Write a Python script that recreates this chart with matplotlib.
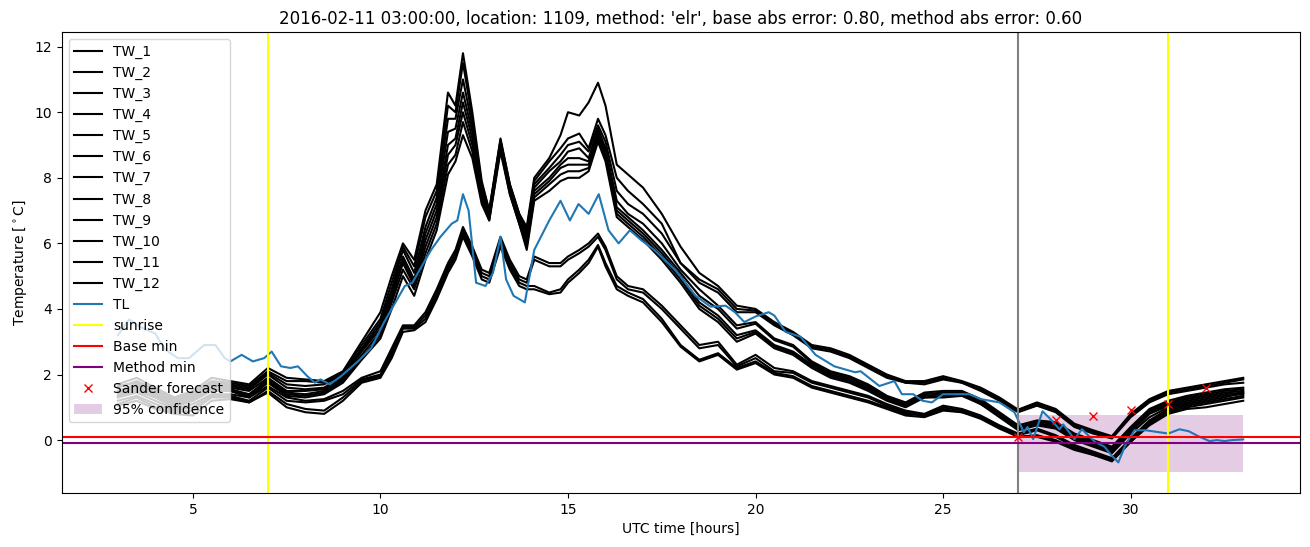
import matplotlib
matplotlib.use("Agg")
import matplotlib.pyplot as plt

# ---- data -------------------------------------------------------------
hours = [3.0, 3.5, 4.0, 4.5, 5.0, 5.5, 6.0, 6.5, 7.0, 7.5,
         8.0, 8.5, 9.0, 9.5, 10.0, 10.3, 10.6, 10.9, 11.2, 11.5,
         11.8, 12.0, 12.2, 12.45, 12.7, 12.9, 13.2, 13.45, 13.7, 13.9,
         14.1, 14.5, 14.8, 15.0, 15.3, 15.55, 15.8, 16.0, 16.3, 16.6,
         17.0, 17.5, 18.0, 18.5, 19.0, 19.5, 20.0, 20.5, 21.0, 21.5,
         22.0, 22.5, 23.0, 23.5, 24.0, 24.5, 25.0, 25.5, 26.0, 26.5,
         27.0, 27.5, 28.0, 28.5, 29.0, 29.5, 30.0, 30.5, 31.0, 31.5,
         32.0, 32.5, 33.0]

tw_1 = [1.7, 1.9, 1.6, 1.3, 1.5, 1.9, 1.8, 1.7, 2.2, 1.9,
        1.85, 1.8, 2.1, 3.0, 3.9, 5.0, 6.0, 5.5, 7.0, 7.8,
        10.6, 10.2, 11.8, 10.0, 7.9, 7.0, 9.2, 7.8, 6.9, 6.5,
        8.0, 8.6, 9.3, 10.0, 9.9, 10.3, 10.9, 10.2, 8.4, 8.1,
        7.7, 6.9, 5.9, 5.1, 4.7, 4.1, 4.0, 3.6, 3.3, 2.9,
        2.8, 2.6, 2.3, 2.0, 1.8, 1.8, 1.95, 1.8, 1.6, 1.3,
        0.93, 1.15, 0.95, 0.5, 0.3, 0.12, 0.8, 1.25, 1.5, 1.6,
        1.7, 1.8, 1.9]
tw_2 = [1.6, 1.8, 1.55, 1.3, 1.45, 1.8, 1.75, 1.65, 2.1, 1.8,
        1.8, 1.75, 2.05, 2.9, 3.7, 4.8, 5.9, 5.3, 6.8, 7.6,
        10.2, 10.0, 11.5, 9.8, 7.8, 7.0, 9.15, 7.8, 6.9, 6.4,
        7.9, 8.5, 8.9, 9.2, 9.35, 8.9, 9.8, 9.3, 8.0, 7.6,
        7.2, 6.6, 5.4, 4.9, 4.6, 4.0, 3.95, 3.55, 3.25, 2.85,
        2.75, 2.55, 2.25, 1.95, 1.75, 1.75, 1.9, 1.75, 1.55, 1.25,
        0.9, 1.1, 0.9, 0.45, 0.25, 0.1, 0.75, 1.2, 1.45, 1.55,
        1.65, 1.75, 1.85]
tw_3 = [1.65, 1.75, 1.5, 1.25, 1.4, 1.75, 1.7, 1.6, 2.05, 1.7,
        1.65, 1.7, 2.0, 2.8, 3.6, 4.6, 5.8, 5.1, 6.5, 7.4,
        9.8, 9.8, 11.0, 9.6, 7.7, 6.9, 9.1, 7.7, 6.8, 6.3,
        7.8, 8.3, 8.7, 9.0, 9.1, 8.8, 9.6, 9.1, 7.6, 7.2,
        6.9, 6.3, 5.4, 4.8, 4.5, 3.9, 3.9, 3.5, 3.2, 2.8,
        2.7, 2.5, 2.2, 1.9, 1.75, 1.7, 1.85, 1.75, 1.5, 1.2,
        0.85, 1.05, 0.85, 0.4, 0.2, 0.05, 0.7, 1.15, 1.4, 1.5,
        1.6, 1.7, 1.75]
tw_4 = [1.5, 1.7, 1.45, 1.2, 1.35, 1.7, 1.65, 1.55, 2.0, 1.6,
        1.55, 1.6, 1.95, 2.75, 3.5, 4.5, 5.6, 4.9, 6.3, 7.2,
        9.4, 9.5, 10.6, 9.4, 7.6, 6.9, 9.05, 7.7, 6.8, 6.2,
        7.7, 8.2, 8.5, 8.8, 8.9, 8.6, 9.5, 8.9, 7.3, 6.9,
        6.6, 6.0, 5.2, 4.6, 4.1, 3.5, 3.6, 3.1, 2.9, 2.4,
        2.1, 1.95, 1.7, 1.35, 1.15, 1.45, 1.5, 1.5, 1.25, 0.85,
        0.45, 0.6, 0.55, 0.2, 0.0, -0.2, 0.4, 0.95, 1.2, 1.35,
        1.45, 1.55, 1.6]
tw_5 = [1.45, 1.6, 1.4, 1.15, 1.3, 1.65, 1.6, 1.5, 1.9, 1.5,
        1.5, 1.55, 1.9, 2.7, 3.4, 4.4, 5.5, 4.8, 6.1, 7.0,
        9.0, 9.2, 10.3, 9.2, 7.5, 6.8, 9.0, 7.6, 6.7, 6.1,
        7.6, 8.0, 8.4, 8.6, 8.6, 8.5, 9.4, 8.8, 7.1, 6.8,
        6.4, 5.8, 5.1, 4.4, 4.0, 3.4, 3.55, 3.05, 2.85, 2.35,
        2.05, 1.9, 1.65, 1.3, 1.1, 1.4, 1.45, 1.45, 1.2, 0.8,
        0.4, 0.55, 0.5, 0.15, -0.05, -0.25, 0.35, 0.9, 1.15, 1.3,
        1.4, 1.5, 1.55]
tw_6 = [1.5, 1.65, 1.35, 1.1, 1.25, 1.6, 1.55, 1.4, 1.85, 1.45,
        1.4, 1.5, 1.85, 2.6, 3.3, 4.3, 5.4, 4.7, 5.9, 6.8,
        8.7, 9.0, 10.0, 9.0, 7.4, 6.8, 8.95, 7.6, 6.7, 6.0,
        7.5, 7.9, 8.3, 8.4, 8.4, 8.4, 9.3, 8.7, 7.0, 6.7,
        6.3, 5.7, 5.0, 4.2, 3.8, 3.2, 3.35, 2.9, 2.7, 2.3,
        2.0, 1.85, 1.6, 1.3, 1.1, 1.35, 1.4, 1.45, 1.15, 0.8,
        0.4, 0.5, 0.45, 0.1, -0.1, -0.3, 0.3, 0.85, 1.1, 1.25,
        1.35, 1.45, 1.5]
tw_7 = [1.4, 1.55, 1.3, 1.05, 1.2, 1.55, 1.5, 1.35, 1.8, 1.4,
        1.35, 1.45, 1.8, 2.5, 3.2, 4.2, 5.2, 4.6, 5.7, 6.6,
        8.4, 8.7, 9.7, 8.8, 7.3, 6.7, 8.9, 7.5, 6.6, 5.9,
        7.4, 7.8, 8.1, 8.2, 8.2, 8.3, 9.2, 8.6, 6.9, 6.6,
        6.2, 5.6, 4.9, 4.1, 3.7, 3.1, 3.3, 2.85, 2.65, 2.25,
        1.95, 1.8, 1.55, 1.25, 1.05, 1.3, 1.35, 1.4, 1.1, 0.75,
        0.35, 0.5, 0.4, 0.05, -0.15, -0.35, 0.25, 0.8, 1.05, 1.2,
        1.3, 1.4, 1.45]
tw_8 = [1.35, 1.5, 1.3, 1.0, 1.2, 1.5, 1.5, 1.3, 1.75, 1.35,
        1.3, 1.4, 1.75, 2.45, 3.1, 4.0, 5.0, 4.4, 5.5, 6.4,
        8.1, 8.5, 9.3, 8.6, 7.2, 6.7, 8.8, 7.5, 6.6, 5.8,
        7.3, 7.6, 7.9, 8.0, 8.0, 8.2, 9.1, 8.5, 6.8, 6.5,
        6.1, 5.5, 4.8, 4.0, 3.6, 3.0, 3.25, 2.8, 2.6, 2.2,
        1.9, 1.75, 1.5, 1.2, 1.0, 1.3, 1.3, 1.35, 1.1, 0.7,
        0.3, 0.45, 0.35, 0.0, -0.2, -0.4, 0.2, 0.7, 1.0, 1.15,
        1.25, 1.35, 1.4]
tw_9 = [1.3, 1.45, 1.2, 0.95, 1.1, 1.4, 1.4, 1.3, 1.65, 1.3,
        1.2, 1.25, 1.5, 1.9, 2.1, 2.8, 3.5, 3.5, 3.9, 4.6,
        5.4, 5.8, 6.5, 5.9, 5.2, 5.1, 6.2, 5.5, 5.0, 4.9,
        5.6, 5.4, 5.4, 5.6, 5.8, 6.0, 6.3, 5.9, 5.0, 4.7,
        4.6, 4.1, 3.5, 2.9, 3.0, 2.3, 2.6, 2.2, 2.1, 1.8,
        1.65, 1.5, 1.35, 1.1, 0.9, 0.8, 1.05, 0.95, 0.75, 0.45,
        0.2, 0.35, 0.15, -0.15, -0.35, -0.55, 0.05, 0.6, 0.95, 1.1,
        1.2, 1.3, 1.45]
tw_10 = [1.2, 1.35, 1.1, 0.9, 1.0, 1.35, 1.35, 1.2, 1.6, 1.2,
         1.15, 1.2, 1.4, 1.85, 2.0, 2.7, 3.45, 3.45, 3.8, 4.5,
         5.3, 5.7, 6.4, 5.8, 5.1, 5.0, 6.1, 5.4, 4.9, 4.8,
         5.5, 5.3, 5.3, 5.5, 5.7, 5.9, 6.2, 5.8, 4.9, 4.6,
         4.5, 4.0, 3.4, 2.8, 2.9, 2.25, 2.5, 2.1, 2.05, 1.75,
         1.6, 1.45, 1.3, 1.05, 0.85, 0.75, 1.0, 0.9, 0.7, 0.4,
         0.15, 0.3, 0.1, -0.2, -0.4, -0.6, 0.0, 0.55, 0.9, 1.05,
         1.15, 1.25, 1.35]
tw_11 = [1.1, 1.3, 1.0, 0.85, 0.9, 1.3, 1.3, 1.15, 1.5, 1.1,
         0.95, 0.9, 1.3, 1.8, 1.95, 2.6, 3.4, 3.4, 3.7, 4.4,
         5.2, 5.6, 6.3, 5.7, 5.0, 4.9, 6.0, 5.3, 4.8, 4.7,
         4.7, 4.5, 4.6, 4.9, 5.2, 5.5, 5.95, 5.4, 4.7, 4.5,
         4.3, 3.7, 2.9, 2.45, 2.65, 2.2, 2.4, 2.05, 1.95, 1.65,
         1.5, 1.35, 1.2, 1.0, 0.8, 0.75, 0.95, 0.85, 0.7, 0.4,
         0.1, 0.15, 0.0, -0.25, -0.45, -0.6, -0.05, 0.5, 0.85, 1.0,
         1.1, 1.2, 1.3]
tw_12 = [1.05, 1.2, 0.95, 0.8, 0.75, 1.2, 1.25, 1.15, 1.45, 1.0,
         0.85, 0.8, 1.2, 1.75, 1.9, 2.5, 3.3, 3.35, 3.6, 4.3,
         5.1, 5.5, 6.2, 5.6, 4.9, 4.8, 5.9, 5.2, 4.7, 4.6,
         4.6, 4.45, 4.5, 4.8, 5.1, 5.4, 5.9, 5.3, 4.6, 4.4,
         4.2, 3.6, 2.85, 2.4, 2.6, 2.15, 2.35, 2.0, 1.9, 1.6,
         1.45, 1.3, 1.15, 0.95, 0.75, 0.7, 0.9, 0.85, 0.65, 0.35,
         0.1, 0.1, -0.05, -0.3, -0.45, -0.65, -0.05, 0.45, 0.8, 0.95,
         1.0, 1.1, 1.2]

tl_hours = [3.0, 3.3, 3.6, 4.0, 4.25, 4.6, 4.9, 5.3, 5.6, 5.85,
            6.0, 6.3, 6.6, 6.9, 7.1, 7.35, 7.6, 7.8, 8.05, 8.25,
            8.4, 8.65, 8.95, 9.4, 9.75, 10.1, 10.45, 10.65, 10.85, 11.05,
            11.35, 11.6, 11.9, 12.05, 12.2, 12.35, 12.55, 12.8, 13.0, 13.2,
            13.35, 13.55, 13.85, 14.1, 14.5, 14.8, 15.05, 15.28, 15.55, 15.82,
            16.08, 16.35, 16.65, 16.95, 17.3, 17.85, 18.4, 18.8, 19.2, 19.45,
            19.7, 20.0, 20.35, 20.5, 20.8, 21.2, 21.6, 22.1, 22.65, 22.8,
            23.3, 23.7, 23.9, 24.2, 24.45, 24.7, 25.0, 25.7, 26.0, 26.5,
            26.9, 27.15, 27.25, 27.4, 27.65, 27.87, 28.1, 28.2, 28.5, 28.7,
            29.05, 29.3, 29.5, 29.67, 29.85, 30.1, 30.4, 31.0, 31.3, 31.55,
            31.8, 32.1, 32.3, 32.5, 32.7, 33.0]
tl = [3.2, 3.68, 3.45, 3.25, 2.77, 2.5, 2.5, 2.9, 2.9, 2.5,
      2.4, 2.6, 2.4, 2.5, 2.7, 2.25, 2.2, 2.25, 1.95, 1.75,
      1.85, 1.7, 1.95, 2.4, 2.8, 3.6, 4.3, 4.7, 4.8, 5.2,
      5.8, 6.2, 6.6, 6.7, 7.5, 7.0, 4.8, 4.7, 5.1, 6.2,
      4.9, 4.4, 4.2, 5.8, 6.7, 7.3, 6.7, 7.2, 6.9, 7.5,
      6.4, 6.0, 6.4, 6.1, 5.8, 5.2, 4.4, 4.07, 4.1, 3.9,
      3.6, 3.77, 3.9, 3.8, 3.3, 3.15, 2.6, 2.25, 2.07, 2.1,
      1.65, 1.8, 1.4, 1.4, 1.2, 1.15, 1.4, 1.4, 1.25, 1.15,
      0.85, 0.24, 0.4, 0.03, 0.88, 0.63, 0.33, 0.48, 0.03, 0.33,
      -0.06, -0.2, -0.48, -0.68, -0.17, 0.3, 0.3, 0.2, 0.33, 0.27,
      0.12, -0.03, 0.0, -0.03, 0.0, 0.02]

sunrise_hours = [7.0, 31.0]
forecast_start = 27.0
base_min = 0.1
method_min = -0.1
sander_hours = [27, 28, 29, 30, 31, 32]
sander_temp = [0.1, 0.62, 0.73, 0.91, 1.1, 1.6]
conf_hours = [27.0, 33.0]
conf_low = [-0.97, -0.97]
conf_high = [0.76, 0.76]

tw_series = [tw_1, tw_2, tw_3, tw_4, tw_5, tw_6,
             tw_7, tw_8, tw_9, tw_10, tw_11, tw_12]

title = ("2016-02-11 03:00:00, location: 1109, method: 'elr', "
         "base abs error: 0.80, method abs error: 0.60")

# ---- plot -------------------------------------------------------------
fig, ax = plt.subplots(figsize=(13.1, 5.47), dpi=100)
fig.subplots_adjust(left=0.047, right=0.992, bottom=0.099, top=0.941)

for i, s in enumerate(tw_series):
    ax.plot(hours, s, color="black", label=f"TW_{i + 1}")
ax.plot(tl_hours, tl, color="tab:blue", label="TL")
ax.axvline(sunrise_hours[0], color="yellow", label="sunrise")
ax.axvline(sunrise_hours[1], color="yellow")
ax.axvline(forecast_start, color="gray")
ax.axhline(base_min, color="red", label="Base min")
ax.axhline(method_min, color="purple", label="Method min")
ax.plot(sander_hours, sander_temp, "rx", label="Sander forecast")
ax.fill_between(conf_hours, conf_low, conf_high, color="purple",
                alpha=0.2, linewidth=0, label="95% confidence")

ax.set_title(title)
ax.set_xlabel("UTC time [hours]")
ax.set_ylabel(r"Temperature [$^\circ$C]")
ax.legend(loc="upper left")

fig.savefig("out.png", dpi=100)
